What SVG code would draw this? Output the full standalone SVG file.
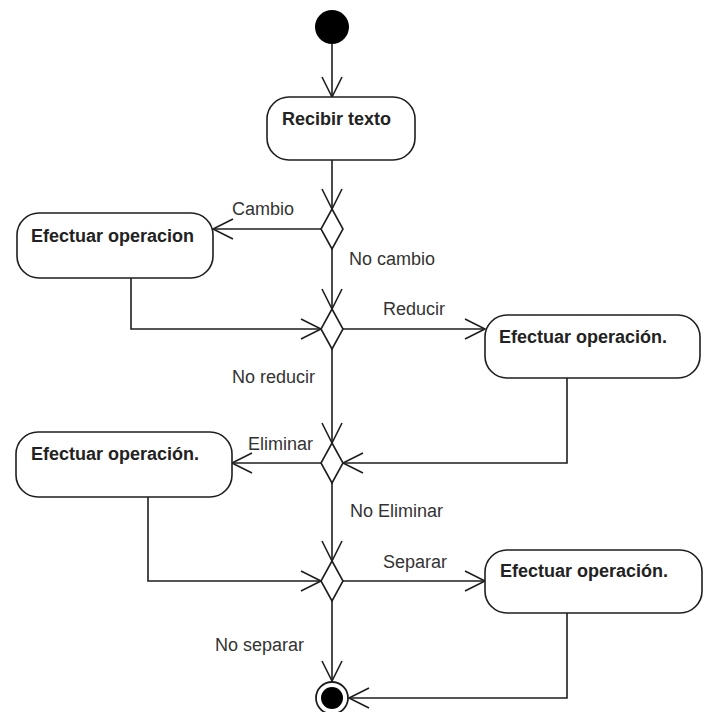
<svg xmlns="http://www.w3.org/2000/svg" width="706" height="712" viewBox="0 0 706 712">
  <defs>
    <marker id="open" markerUnits="userSpaceOnUse" viewBox="0 0 24 24" refX="22" refY="12" markerWidth="24" markerHeight="24" orient="auto">
      <path d="M2,2 L22,12 L2,22" fill="none" stroke="#1e1e1e" stroke-width="1.6"/>
    </marker>
  </defs>
  <style>
    .act { fill: #ffffff; stroke: #1e1e1e; stroke-width: 1.6; }
    .dec { fill: #ffffff; stroke: #1e1e1e; stroke-width: 1.6; }
    .edge { fill: none; stroke: #1e1e1e; stroke-width: 1.6; marker-end: url(#open); }
    .name { font-family: "Liberation Sans", Arial, sans-serif; font-size: 18px; font-weight: bold; fill: #222; }
    .guard { font-family: "Liberation Sans", Arial, sans-serif; font-size: 18px; fill: #333; }
  </style>
  <rect width="706" height="712" fill="#ffffff"/>

  <!-- connectors -->
  <g id="edges">
    <path class="edge" d="M332,44 L332,97"/>
    <path class="edge" d="M332,160 L332,209"/>
    <path class="edge" d="M321,229 L213,229"/>
    <path class="edge" d="M332,249 L332,309"/>
    <path class="edge" d="M131,278 L131,329 L321,329"/>
    <path class="edge" d="M343,329 L485,329"/>
    <path class="edge" d="M332,349 L332,443"/>
    <path class="edge" d="M567,378 L567,463 L343,463"/>
    <path class="edge" d="M321,463 L232,463"/>
    <path class="edge" d="M332,483 L332,561"/>
    <path class="edge" d="M148,497 L148,581 L321,581"/>
    <path class="edge" d="M343,581 L485,581"/>
    <path class="edge" d="M332,601 L332,681"/>
    <path class="edge" d="M567,613 L567,698 L349,698"/>
    <text class="guard" x="232" y="215">Cambio</text>
    <text class="guard" x="349" y="265">No cambio</text>
    <text class="guard" x="383" y="315">Reducir</text>
    <text class="guard" x="232" y="383">No reducir</text>
    <text class="guard" x="248" y="450">Eliminar</text>
    <text class="guard" x="350" y="517">No Eliminar</text>
    <text class="guard" x="383" y="568">Separar</text>
    <text class="guard" x="215" y="651">No separar</text>
  </g>

  <g id="inicio">
    <circle cx="332" cy="27" r="17" fill="#000"/>
  </g>

  <g id="recibir">
    <rect class="act" x="267" y="97" width="148" height="63" rx="22"/>
    <text class="name" x="282" y="125">Recibir texto</text>
  </g>

  <g id="d1"><path class="dec" d="M332,209 L343,229 L332,249 L321,229 Z"/></g>
  <g id="d2"><path class="dec" d="M332,309 L343,329 L332,349 L321,329 Z"/></g>
  <g id="d3"><path class="dec" d="M332,443 L343,463 L332,483 L321,463 Z"/></g>
  <g id="d4"><path class="dec" d="M332,561 L343,581 L332,601 L321,581 Z"/></g>

  <g id="cambio">
    <rect class="act" x="17" y="213" width="196" height="65" rx="22"/>
    <text class="name" x="31" y="242">Efectuar operacion</text>
  </g>

  <g id="reducir">
    <rect class="act" x="485" y="315" width="215" height="63" rx="22"/>
    <text class="name" x="499" y="343">Efectuar operación.</text>
  </g>

  <g id="eliminar">
    <rect class="act" x="16" y="432" width="216" height="65" rx="22"/>
    <text class="name" x="31" y="460">Efectuar operación.</text>
  </g>

  <g id="separar">
    <rect class="act" x="485" y="550" width="217" height="63" rx="22"/>
    <text class="name" x="500" y="577">Efectuar operación.</text>
  </g>

  <g id="fin">
    <circle cx="332" cy="698" r="16" fill="#fff" stroke="#1e1e1e" stroke-width="1.8"/>
    <circle cx="332" cy="698" r="11" fill="#000"/>
  </g>
</svg>
